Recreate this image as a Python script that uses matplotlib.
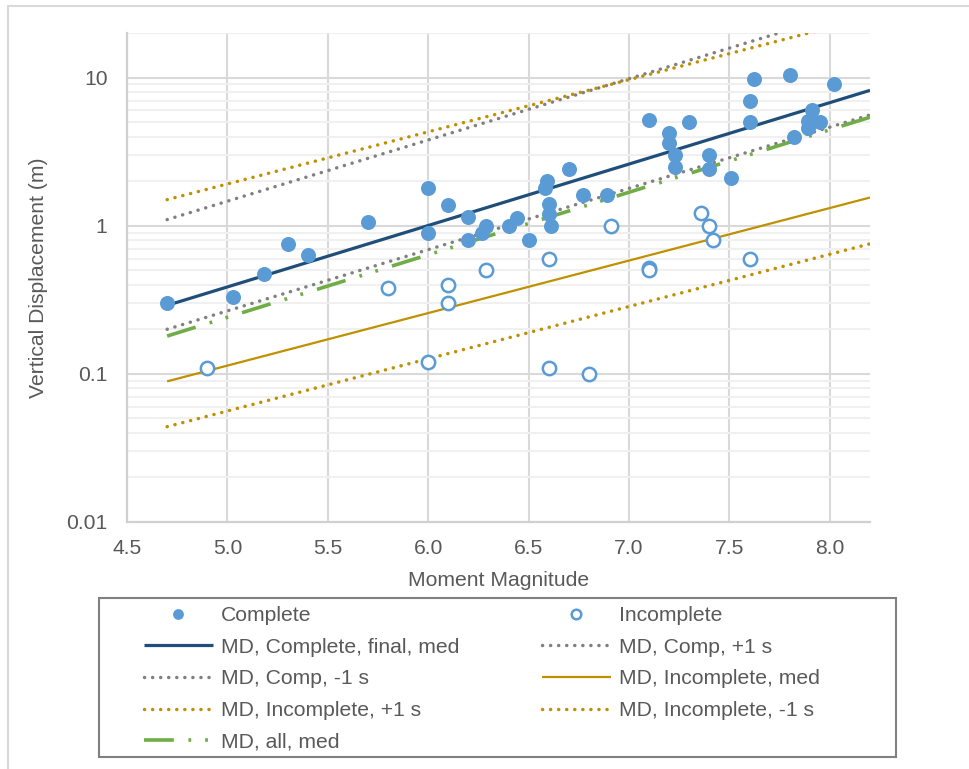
import numpy as np
import matplotlib
matplotlib.use("Agg")
import matplotlib.pyplot as plt
from matplotlib.patches import Rectangle
from matplotlib.ticker import FixedLocator, LogLocator, FuncFormatter, NullFormatter

plt.rcParams['font.family'] = ['Liberation Sans', 'DejaVu Sans']
plt.rcParams['lines.scale_dashes'] = False

# observed events: moment magnitude vs vertical displacement (m)
comp_mag = [4.70, 5.03, 5.18, 5.30, 5.40, 5.70, 6.00, 6.00, 6.10, 6.20, 6.20,
            6.27, 6.29, 6.40, 6.44, 6.50, 6.58, 6.59, 6.60, 6.60, 6.61, 6.70,
            6.77, 6.89, 7.10, 7.20, 7.20, 7.23, 7.23, 7.30, 7.40, 7.40, 7.51,
            7.60, 7.60, 7.62, 7.80, 7.82, 7.89, 7.89, 7.91, 7.95, 8.02]
comp_disp = [0.30, 0.33, 0.47, 0.75, 0.63, 1.06, 1.80, 0.90, 1.39, 1.15, 0.80,
             0.90, 1.00, 1.00, 1.12, 0.80, 1.80, 2.00, 1.40, 1.20, 1.00, 2.42,
             1.60, 1.60, 5.20, 4.20, 3.60, 3.00, 2.50, 5.00, 3.00, 2.42, 2.10,
             7.00, 5.00, 9.85, 10.4, 4.00, 5.10, 4.60, 6.00, 5.00, 9.00]

inc_mag = [4.90, 5.80, 6.00, 6.10, 6.10, 6.29, 6.60, 6.60, 6.80, 6.91, 7.10,
           7.10, 7.36, 7.40, 7.42, 7.60]
inc_disp = [0.11, 0.38, 0.12, 0.40, 0.30, 0.50, 0.60, 0.11, 0.10, 1.00, 0.52,
            0.50, 1.22, 1.00, 0.80, 0.60]

# regression lines, values at the two ends of the magnitude range
fit_mag = [4.7, 8.2]
md_comp_med = [0.29, 8.2]
md_comp_p1 = [1.10, 30.8]
md_comp_m1 = [0.20, 5.6]
md_inc_med = [0.089, 1.55]
md_inc_p1 = [1.50, 25.6]
md_inc_m1 = [0.044, 0.755]
md_all_med = [0.18, 5.4]

xticks = [4.5, 5.0, 5.5, 6.0, 6.5, 7.0, 7.5, 8.0]
yticks = [0.01, 0.1, 1, 10]

blue = '#5B9BD5'
navy = '#1F4E79'
gray = '#808080'
gold = '#BF9000'
green = '#70AD47'
txt = '#595959'
fs = 15.2

fig = plt.figure(figsize=(9.7, 7.69), dpi=100)
ax = fig.add_axes([0.1309, 0.3212, 0.766, 0.6359])

dot = (0, (0.1, 5.7))
h_cmed, = ax.plot(fit_mag, md_comp_med, color=navy, lw=2.3, solid_capstyle='butt',
                  label='MD, Complete, final, med', zorder=3)
h_cp1, = ax.plot(fit_mag, md_comp_p1, color=gray, lw=2.5, ls=dot, dash_capstyle='round',
                 label='MD, Comp, +1 s', zorder=3)
h_cm1, = ax.plot(fit_mag, md_comp_m1, color=gray, lw=2.5, ls=dot, dash_capstyle='round',
                 label='MD, Comp, -1 s', zorder=3)
h_imed, = ax.plot(fit_mag, md_inc_med, color=gold, lw=1.6, solid_capstyle='butt',
                  label='MD, Incomplete, med', zorder=3)
h_ip1, = ax.plot(fit_mag, md_inc_p1, color=gold, lw=2.5, ls=dot, dash_capstyle='round',
                 label='MD, Incomplete, +1 s', zorder=3)
h_im1, = ax.plot(fit_mag, md_inc_m1, color=gold, lw=2.5, ls=dot, dash_capstyle='round',
                 label='MD, Incomplete, -1 s', zorder=3)
h_all, = ax.plot(fit_mag, md_all_med, color=green, lw=2.6,
                 ls=(0, (21.5, 10.5, 2, 10, 2, 10.5)), dash_capstyle='butt',
                 label='MD, all, med', zorder=3)

h_comp, = ax.plot(comp_mag, comp_disp, 'o', color=blue, ms=10.8, mew=0,
                  label='Complete', zorder=4)
h_inc, = ax.plot(inc_mag, inc_disp, 'o', mfc='white', mec=blue, ms=9.6, mew=1.8,
                 label='Incomplete', zorder=4)

ax.set_yscale('log')
ax.set_xlim(4.5, 8.2)
ax.set_ylim(0.01, 20)

ax.xaxis.set_major_locator(FixedLocator(xticks))
ax.xaxis.set_major_formatter(FuncFormatter(lambda v, p: f'{v:.1f}'))
ax.yaxis.set_major_locator(FixedLocator(yticks))
ax.yaxis.set_major_formatter(FuncFormatter(lambda v, p: f'{v:g}'))
ax.yaxis.set_minor_locator(LogLocator(base=10, subs=np.arange(2, 10)))
ax.yaxis.set_minor_formatter(NullFormatter())

ax.grid(True, which='major', color='#D9D9D9', lw=1.5)
ax.grid(True, which='minor', axis='y', color='#F0F0F0', lw=1.5)
ax.set_axisbelow(True)
for s in ['top', 'right']:
    ax.spines[s].set_visible(False)
for s in ['left', 'bottom']:
    ax.spines[s].set_color('#D0D0D0')
    ax.spines[s].set_linewidth(1.6)

ax.tick_params(which='both', length=0, labelsize=fs, labelcolor=txt)
ax.tick_params(axis='x', pad=12.5)
ax.tick_params(axis='y', pad=14)

ax.set_xlabel('Moment Magnitude', fontsize=fs, color=txt, labelpad=9)
ax.set_ylabel('Vertical Displacement (m)', fontsize=fs, color=txt, labelpad=13)

# legend filled column by column, so order gives the row layout
handles = [h_comp, h_cmed, h_cm1, h_ip1, h_all,
           h_inc, h_cp1, h_imed, h_im1]
leg = fig.legend(handles=handles, labels=[h.get_label() for h in handles],
                 ncol=2, loc='upper left',
                 bbox_to_anchor=(144 / 970, 1 - 606 / 769),
                 fontsize=fs, frameon=False,
                 handlelength=3.25, handletextpad=0.38, labelspacing=0.6,
                 markerscale=0.72, borderaxespad=0, borderpad=0, columnspacing=3.93)
for t in leg.get_texts():
    t.set_color(txt)

# legend box
fig.patches.append(Rectangle((99 / 970, 1 - 757 / 769), 797 / 970, 159 / 769,
                             transform=fig.transFigure, fill=False,
                             edgecolor='#808080', lw=1.5))
# chart-area border
fig.patches.append(Rectangle((8 / 970, -0.05), 1.2, 1 - 6 / 769 + 0.05,
                             transform=fig.transFigure, fill=False,
                             edgecolor='#D9D9D9', lw=1.5))

fig.savefig('out.png', dpi=100, facecolor='white')
